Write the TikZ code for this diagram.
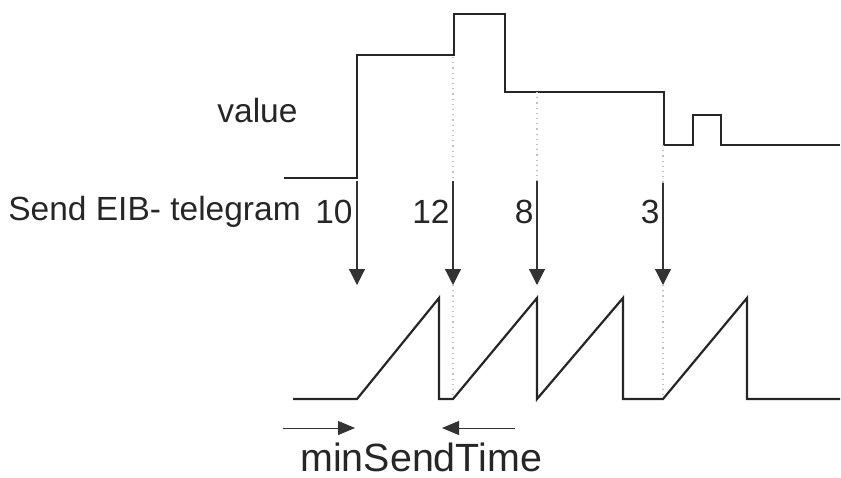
\documentclass[tikz,border=0pt]{standalone}
\usepackage{fontspec}
\setmainfont{Liberation Sans}
\usetikzlibrary{arrows.meta}

\begin{document}
\begin{tikzpicture}[x=0.5pt,y=-0.5pt,
    signal/.style={line width=1.1pt,black!85,line join=miter},
    guide/.style={gray!50,dotted,line width=0.6pt},
    sendarrow/.style={line width=0.6pt,black!80,-{Triangle[width=8pt,length=8pt]}},
    timearrow/.style={line width=0.5pt,black!80,-{Triangle[width=7pt,length=8.5pt]}},
    lbl/.style={inner sep=0pt,text=black!85,font=\fontsize{16.75}{20}\selectfont}]
    \useasboundingbox (0,0) rectangle (841,477);
    % value
    \draw[signal] (284,178) -- (357,178) -- (357,55) -- (454,55) -- (454,14) -- (505,14)
        -- (505,92) -- (664,92) -- (664,145) -- (693,145) -- (693,115) -- (721,115)
        -- (721,145) -- (840,145);
    \node[lbl,anchor=base west] (value) at (217,122) {value};
    % telegrams
    \node[lbl,anchor=base west] (send) at (8,220) {Send EIB- telegram};
    \node[lbl,anchor=base east] (n10) at (353,223) {10};
    \node[lbl,anchor=base east] (n12) at (450,223) {12};
    \node[lbl,anchor=base east] (n8) at (534,223) {8};
    \node[lbl,anchor=base east] (n3) at (660,223) {3};
    \coordinate (t10) at (357,181);
    \coordinate (h10) at (357,285);
    \coordinate (t12) at (453,181);
    \coordinate (h12) at (453,285);
    \coordinate (t8) at (537,181);
    \coordinate (h8) at (537,285);
    \coordinate (t3) at (663,183);
    \coordinate (h3) at (663,285);
    \draw[guide] (453,57) -- (t12);
    \draw[guide] (537,92) -- (t8);
    \draw[guide] (663,145) -- (t3);
    \draw[guide] (h12) -- (453,399);
    \draw[guide] (h3) -- (663,399);
    \draw[sendarrow] (t10) -- (h10);
    \draw[sendarrow] (t12) -- (h12);
    \draw[sendarrow] (t8) -- (h8);
    \draw[sendarrow] (t3) -- (h3);
    % timer
    \draw[signal] (293,399) -- (357,399) -- (439,298) -- (439,399) -- (453,399) -- (537,298)
        -- (537,399) -- (623,298) -- (623,399) -- (663,399) -- (747,298) -- (747,399) -- (840,399);
    \coordinate (a0) at (283,428);
    \coordinate (a1) at (355,428);
    \coordinate (b0) at (515,428);
    \coordinate (b1) at (442,428);
    \draw[timearrow] (a0) -- (a1);
    \draw[timearrow] (b0) -- (b1);
    \node[lbl,anchor=base west,font=\fontsize{19.7}{24}\selectfont] (mst) at (300,471) {minSendTime};
\end{tikzpicture}
\end{document}
